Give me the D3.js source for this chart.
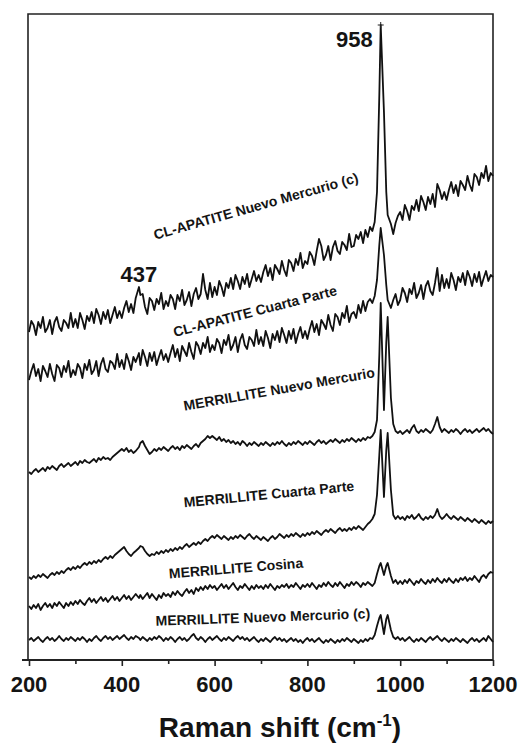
<!DOCTYPE html>
<html>
<head>
<meta charset="utf-8">
<script src="https://cdn.jsdelivr.net/npm/d3@7/dist/d3.min.js"></script>
<style>
  body { margin: 0; background: #fff; }
  text { font-family: "Liberation Sans", Arial, sans-serif; font-weight: bold; fill: #141414; }
</style>
</head>
<body>
<svg id="chart" width="521" height="744"></svg>
<script>
// Raman shift sampling grid (cm-1)
const ramanShift = [
  200,205,210,215,220,225,230,235,240,245,250,255,260,265,270,275,280,285,290,295,
  300,305,310,315,320,325,330,335,340,345,350,355,360,365,370,375,380,385,390,395,
  400,405,410,415,420,425,430,437,440,445,450,455,460,465,470,475,480,485,490,495,
  500,505,510,515,520,525,530,535,540,545,550,555,560,565,570,575,580,585,590,595,
  600,605,610,615,620,625,630,635,640,645,650,655,660,665,670,675,680,685,690,695,
  700,705,710,715,720,725,730,735,740,745,750,755,760,765,770,775,780,785,790,795,
  800,805,810,815,820,825,830,835,840,845,850,855,860,865,870,875,880,885,890,895,
  900,905,910,915,920,925,930,935,940,945,950,955,958,965,970,973,980,985,990,995,
  1000,1005,1010,1015,1020,1025,1030,1035,1040,1045,1050,1055,1060,1065,1070,1075,1080,1085,1090,1095,
  1100,1105,1110,1115,1120,1125,1130,1135,1140,1145,1150,1155,1160,1165,1170,1175,1180,1185,1190,1195,
  1200
];

// Stacked intensities (a.u., offsets included)
const clApatiteNuevoMercurioC = [
  328,339,335,325,338,332,343,328,332,340,326,338,343,333,329,340,337,332,347,333,
  341,332,347,340,331,344,339,348,337,351,345,336,348,341,350,337,345,353,342,349,
  342,352,359,348,356,347,362,373,365,366,353,346,362,359,350,361,356,367,351,359,
  354,365,361,351,365,359,370,355,360,368,354,366,372,361,366,386,370,361,377,363,
  373,365,379,373,364,377,372,382,371,385,379,371,383,376,386,373,381,389,379,385,
  378,388,395,384,392,380,395,391,386,399,390,384,400,397,389,401,395,407,392,399,
  396,408,404,395,409,421,414,400,405,414,400,413,419,409,406,418,415,410,426,413,
  414,425,421,428,417,430,423,433,429,438,468,565,635,548,468,445,436,426,437,444,
  448,440,455,449,440,454,450,460,449,464,458,450,463,456,466,453,476,470,461,468,
  460,470,478,467,475,464,479,475,470,484,475,469,486,483,475,487,482,494,479,487,
  484
];
const clApatiteCuartaParte = [
  280,289,296,284,291,279,294,289,283,296,286,279,295,292,283,294,288,299,283,290,
  285,296,292,282,296,290,300,286,290,299,284,296,302,291,288,299,297,291,306,293,
  300,291,306,299,290,303,298,307,295,310,303,294,307,299,308,295,303,310,300,306,
  298,307,315,303,311,299,314,309,304,317,308,301,318,314,306,317,312,323,308,315,
  310,321,317,307,320,315,325,310,315,323,308,320,326,315,311,323,320,314,330,316,
  323,314,329,322,312,326,320,329,318,332,325,317,329,321,331,317,326,333,322,329,
  321,331,339,328,336,325,340,336,331,345,335,329,346,343,335,347,342,354,338,346,
  348,342,355,347,359,349,358,361,357,364,380,415,432,405,375,360,352,360,366,355,
  360,372,367,358,371,366,377,362,367,375,361,374,379,369,365,377,392,369,385,372,
  381,372,387,380,370,383,378,387,375,389,383,374,386,378,388,374,382,389,379,385,
  383
];
const merrilliteNuevoMercurio = [
  188,186,189,191,188,190,192,189,193,191,194,192,190,194,196,193,195,197,194,196,
  198,195,199,197,200,198,197,199,201,198,202,200,203,201,202,200,203,205,207,209,
  211,209,212,208,210,207,209,213,217,219,214,210,206,208,211,209,212,210,213,211,
  209,212,214,211,213,210,214,212,215,213,211,214,216,213,217,219,221,224,222,224,
  222,220,223,219,221,218,220,217,219,216,218,215,219,217,214,217,215,218,216,214,
  217,215,218,216,214,217,215,218,216,219,216,214,217,215,218,216,219,217,215,218,
  216,219,217,215,218,220,217,219,216,218,220,218,221,219,217,220,218,221,219,222,
  220,218,221,219,222,220,223,222,224,228,240,305,357,250,318,343,262,236,229,227,
  229,226,228,230,227,232,235,229,227,230,228,231,229,227,230,236,243,233,228,231,
  229,227,230,228,231,229,226,229,231,228,230,227,229,231,228,230,232,229,231,228,
  226
];
const merrilliteCuartaParte = [
  83,81,84,82,85,83,86,84,82,85,87,85,88,86,89,87,90,92,90,93,
  91,94,92,95,97,95,98,96,99,97,100,98,101,103,101,104,102,105,107,109,
  111,113,109,106,104,107,109,112,114,113,109,106,104,106,105,108,106,109,107,110,
  108,111,109,112,110,113,111,114,116,113,115,117,115,118,116,119,121,119,122,124,
  122,125,123,121,124,122,120,123,121,124,122,125,123,121,124,126,123,121,124,122,
  120,123,121,119,122,124,121,123,126,124,122,125,123,126,124,127,125,123,126,124,
  127,125,128,126,129,127,125,128,130,128,131,129,127,130,132,129,131,129,132,130,
  133,131,134,132,130,133,136,138,141,146,165,205,230,163,210,227,170,145,141,144,
  141,143,140,144,142,145,141,143,146,142,140,143,141,144,142,145,151,144,141,143,
  146,143,141,144,142,140,143,141,139,142,140,138,141,139,137,140,138,136,139,137,
  139
];
const merrilliteCosina = [
  54,51,55,52,56,50,54,57,53,56,52,57,54,58,55,52,57,54,58,55,
  59,56,60,57,55,59,62,58,61,57,60,63,59,62,58,61,64,60,63,59,
  62,65,61,64,60,63,66,62,65,61,64,67,62,66,63,60,65,62,67,64,
  66,63,68,65,69,66,64,68,71,67,70,66,72,69,73,70,74,71,75,72,
  74,70,73,76,72,75,71,74,77,73,70,74,72,76,73,70,74,71,75,72,
  74,71,75,72,76,73,70,74,72,75,73,76,72,75,73,77,74,71,75,73,
  76,73,77,74,71,75,73,77,74,78,75,73,77,74,78,75,72,76,74,78,
  75,78,76,73,77,75,78,76,74,77,86,94,97,85,94,97,84,77,80,76,
  79,76,80,77,81,78,75,79,77,81,78,76,80,77,81,78,82,79,77,81,
  78,82,79,77,81,78,82,80,83,79,82,80,84,81,78,83,85,82,86,88,
  87
];
const merrilliteNuevoMercurioC = [
  20,22,19,21,23,20,18,21,23,20,22,19,21,24,21,19,22,20,23,21,
  19,22,20,23,21,18,21,19,22,24,21,19,22,24,21,23,20,22,24,21,
  23,25,22,20,23,21,24,22,20,23,21,19,22,20,23,21,24,22,19,22,
  20,23,21,18,21,23,20,22,19,21,24,26,22,20,23,21,18,21,23,20,
  22,24,21,19,22,20,23,21,19,22,24,21,23,20,22,19,21,23,20,18,
  21,19,22,20,18,21,23,20,22,19,21,18,20,22,19,21,18,20,17,20,
  22,19,21,18,20,22,19,17,20,18,21,19,17,20,18,21,19,22,20,18,
  21,19,17,20,18,21,19,22,21,25,34,42,45,26,41,45,30,23,21,23,
  20,22,19,21,23,20,18,21,19,22,20,18,21,23,20,22,24,21,19,22,
  20,18,21,19,22,20,18,21,19,17,20,22,19,21,18,20,22,19,24,21,
  18
];

const seriesNames = [
  "CL-APATITE Nuevo Mercurio (c)",
  "CL-APATITE Cuarta Parte",
  "MERRILLITE Nuevo Mercurio",
  "MERRILLITE Cuarta Parte",
  "MERRILLITE Cosina",
  "MERRILLITE Nuevo Mercurio (c)"
];
const seriesValues = [
  clApatiteNuevoMercurioC,
  clApatiteCuartaParte,
  merrilliteNuevoMercurio,
  merrilliteCuartaParte,
  merrilliteCosina,
  merrilliteNuevoMercurioC
];

const tickValues = [200, 300, 400, 500, 600, 700, 800, 900, 1000, 1100, 1200];
const tickLabelValues = [200, 400, 600, 800, 1000, 1200];
const peakShifts = [958, 437];
const axisTitle = "Raman shift (cm";
const axisTitleSup = "-1";

// Layout of the series captions: centre (shift, intensity) and slant in degrees
const captionLayout = [
  { shift: 689, level: 454, angle: -15.8 },
  { shift: 687, level: 349, angle: -14.5 },
  { shift: 739, level: 271, angle: -10 },
  { shift: 717, level: 166, angle: -5.6 },
  { shift: 646, level: 92, angle: -4.6 },
  { shift: 704, level: 43, angle: -2 }
];

const svg = d3.select("#chart");
const x = d3.scaleLinear().domain([200, 1200]).range([29, 493]);
const y = d3.scaleLinear().domain([0, 646]).range([660, 14]);

// Frame: top, left and right borders
svg.append("path")
  .attr("d", `M${x(200) - 1},${y(0)} V${y(646)} H${x(1200)} V${y(0)}`)
  .attr("fill", "none")
  .attr("stroke", "#222")
  .attr("stroke-width", 1.6);

// Bottom axis: tick marks from d3.axisBottom, labels drawn below
const axis = d3.axisBottom(x)
  .tickValues(tickValues)
  .tickSize(6)
  .tickFormat(() => "");

const gAxis = svg.append("g")
  .attr("transform", `translate(0,${y(0)})`)
  .call(axis);
gAxis.select(".domain").remove();
gAxis.append("line")
  .attr("x1", x(200) - 7).attr("x2", x(1200))
  .attr("y1", 0).attr("y2", 0)
  .attr("stroke", "#222").attr("stroke-width", 1.8);
gAxis.selectAll(".tick line")
  .attr("stroke", "#222")
  .attr("stroke-width", 1.6)
  .attr("y2", d => tickLabelValues.includes(d) ? 6 : 4);

svg.append("g")
  .selectAll("text")
  .data(tickLabelValues)
  .join("text")
  .attr("x", d => x(d))
  .attr("y", y(0) + 32)
  .attr("text-anchor", "middle")
  .style("font-size", "22px")
  .text(d => String(d));

// Axis title
const title = svg.append("text")
  .attr("x", 280)
  .attr("y", 737)
  .attr("text-anchor", "middle")
  .style("font-size", "28px");
title.append("tspan").text(axisTitle);
title.append("tspan").text(axisTitleSup).attr("dy", -11).style("font-size", "17px");
title.append("tspan").text(")").attr("dy", 11);

// Spectra
const line = d3.line()
  .x((d, i) => x(ramanShift[i]))
  .y(d => y(d));

svg.append("g")
  .selectAll("path")
  .data(seriesValues)
  .join("path")
  .attr("d", line)
  .attr("fill", "none")
  .attr("stroke", "#111")
  .attr("stroke-width", 1.8)
  .attr("stroke-linejoin", "round");

// Series captions
svg.append("g")
  .selectAll("text")
  .data(seriesNames)
  .join("text")
  .attr("transform", (d, i) => {
    const c = captionLayout[i];
    return `translate(${x(c.shift)},${y(c.level)}) rotate(${c.angle})`;
  })
  .attr("text-anchor", "middle")
  .attr("dominant-baseline", "central")
  .style("font-size", "14px")
  .attr("fill", "#1a1a1a")
  .text(d => d);

// Peak annotations
const topIdx = ramanShift.indexOf(peakShifts[0]);
const topVal = clApatiteNuevoMercurioC[topIdx];
svg.append("text")
  .attr("x", x(peakShifts[0]) - 8)
  .attr("y", y(topVal) + 22)
  .attr("text-anchor", "end")
  .style("font-size", "22px")
  .text(String(peakShifts[0]));

const mark = svg.append("g").attr("stroke", "#222").attr("stroke-width", 1);
mark.append("line")
  .attr("x1", x(peakShifts[0]) - 3).attr("x2", x(peakShifts[0]) + 3)
  .attr("y1", y(topVal)).attr("y2", y(topVal));
mark.append("line")
  .attr("x1", x(peakShifts[0])).attr("x2", x(peakShifts[0]))
  .attr("y1", y(topVal) - 3).attr("y2", y(topVal) + 3);

const lowIdx = ramanShift.indexOf(peakShifts[1]);
const lowVal = clApatiteNuevoMercurioC[lowIdx];
svg.append("text")
  .attr("x", x(peakShifts[1]))
  .attr("y", y(lowVal) - 5)
  .attr("text-anchor", "middle")
  .style("font-size", "22px")
  .text(String(peakShifts[1]));
</script>
</body>
</html>
